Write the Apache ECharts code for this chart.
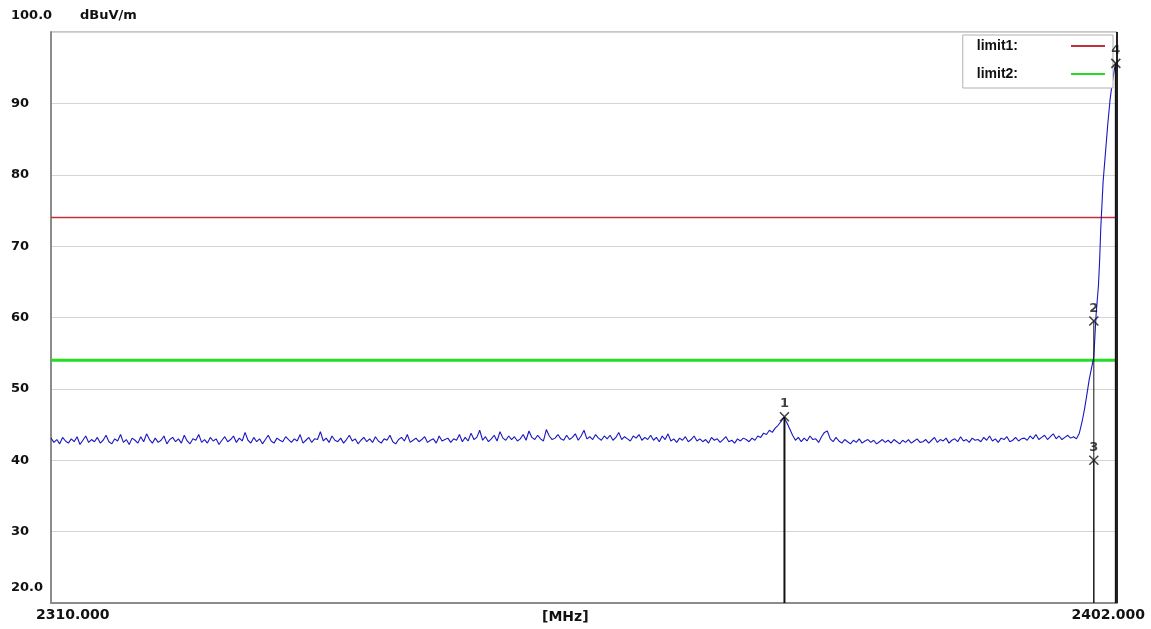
<!DOCTYPE html>
<html><head><meta charset="utf-8">
<script src="https://cdn.jsdelivr.net/npm/echarts@6/dist/echarts.min.js"></script>
<style>html,body{margin:0;padding:0;background:#fff}#c{width:1151px;height:629px}</style>
</head><body><div id="c"></div>
<script>
// ---- data ----
const sweepStart = 2310.0;   // MHz
const sweepStep = 0.25;      // MHz between sweep samples
const sweepLevels = [
  43.1,42.5,42.9,42.3,43.2,42.7,42.4,43.0,42.6,43.3,42.2,42.8,43.4,42.5,42.9,42.6,
  43.2,42.4,42.8,43.5,42.6,42.3,43.0,42.7,43.6,42.5,42.9,42.2,43.1,42.8,42.4,43.3,
  42.6,43.7,42.9,42.4,43.1,42.5,42.8,43.4,42.3,42.9,43.2,42.6,43.0,42.4,43.5,42.7,
  42.3,43.0,42.8,43.6,42.5,42.9,42.4,43.2,42.7,43.0,42.2,42.8,43.3,42.6,42.9,43.4,
  42.5,43.1,42.7,43.9,42.8,42.4,43.2,42.6,43.0,42.3,42.9,43.5,42.7,42.4,43.1,42.8,
  42.6,43.3,42.9,42.5,43.0,42.7,43.6,42.4,42.8,43.2,42.5,43.0,42.9,44.0,42.7,43.1,
  42.5,43.4,42.8,42.6,43.1,42.4,42.9,43.5,42.7,43.0,42.3,42.8,43.2,42.6,43.0,42.5,
  43.3,42.7,42.4,43.0,42.8,43.5,42.6,42.3,42.9,43.2,42.7,43.6,42.5,42.8,43.1,42.6,
  42.9,43.3,42.5,42.8,43.0,42.4,43.4,42.7,42.9,43.1,42.5,43.0,42.8,43.6,42.6,43.2,
  42.7,43.8,42.9,43.2,44.2,42.8,43.3,42.6,43.0,43.5,42.7,44.0,43.1,42.8,43.4,42.9,
  43.3,42.7,43.0,43.6,42.8,44.1,43.2,42.9,43.5,43.0,42.7,44.3,43.4,42.9,43.1,43.6,
  43.0,42.8,43.5,42.9,43.2,43.7,42.8,43.4,44.2,43.0,43.3,42.9,43.6,43.1,42.8,43.4,
  43.0,43.5,42.8,43.2,43.9,42.9,43.3,43.0,42.7,43.4,43.1,43.6,42.8,43.2,42.9,43.5,
  42.8,43.2,42.6,43.4,42.9,43.7,42.7,43.0,42.5,43.1,42.8,43.3,42.6,42.9,43.4,42.7,
  43.0,42.6,42.9,42.4,43.2,42.8,43.0,42.5,42.9,43.3,42.6,42.8,42.4,43.0,42.7,43.1,
  42.9,42.6,43.1,42.8,43.4,43.2,43.8,43.6,44.2,43.9,44.5,44.9,45.4,46.0,45.3,44.4,
  43.5,42.8,43.2,42.6,43.1,42.7,43.4,42.9,43.0,42.5,43.3,43.9,44.1,43.0,42.6,43.2,
  42.7,42.4,42.9,42.6,42.3,42.8,42.5,43.0,42.4,42.7,42.9,42.5,42.8,42.3,42.6,42.9,
  42.5,42.8,42.4,42.9,42.6,42.3,42.8,42.5,42.9,42.4,42.7,43.0,42.5,42.6,42.9,42.4,
  42.8,43.2,42.5,42.9,42.7,43.1,42.4,42.8,43.0,42.6,43.3,42.7,42.9,42.5,43.1,42.8,
  42.9,42.6,43.2,42.8,43.4,42.7,43.0,42.5,43.1,42.9,43.3,42.6,42.8,43.2,42.7,43.0,
  43.1,42.8,43.4,43.0,43.6,42.9,43.2,43.5,42.9,43.3,43.7,43.0,43.4,42.9,43.2,43.5,
  43.1,43.3,43.0
];
// band-edge rise
const edgeFreqs  = [2398.75,2399.0,2399.2,2399.4,2399.6,2399.8,2400.0,2400.1,2400.2,2400.3,2400.4,2400.5,2400.6,2400.8,2401.0,2401.2,2401.4,2401.6,2401.8,2401.9];
const edgeLevels = [43.8,45.5,47.2,49.2,51.3,52.9,54.5,57.5,60.5,62.5,64.5,68.0,72.5,79.0,83.0,87.0,90.5,93.0,95.0,95.6];

const limitNames = ['limit1', 'limit2'];
const limitValues = [74, 54];

const markerIds    = ['1', '2', '3', '4'];
const markerFreqs  = [2373.3, 2400.0, 2400.0, 2401.9];
const markerLevels = [46.1, 59.5, 40.0, 95.6];

const xMin = 2310, xMax = 2402;
const yMin = 20, yMax = 100, yStep = 10;
const yEndLabels = ['20.0', '100.0'];
const xLabels = ['2310.000', '[MHz]', '2402.000'];
const yUnit = 'dBuV/m';

// ---- build ----
const trace = sweepLevels.map((v, i) => [+(sweepStart + i * sweepStep).toFixed(2), v])
  .concat(edgeFreqs.map((f, i) => [f, edgeLevels[i]]));

const FONT = 'DejaVu Sans';
const limitColors = ['#c0303a', '#22dd22'];
const limitWidths = [1.5, 3];

const series = [];
series.push({
  name: 'trace', type: 'line', data: trace, showSymbol: false, silent: true,
  lineStyle: { color: '#1818c0', width: 1.1 }, z: 3, animation: false
});
limitNames.forEach((n, i) => {
  series.push({
    name: n, type: 'line', data: [[xMin, limitValues[i]], [xMax, limitValues[i]]],
    showSymbol: false, color: limitColors[i],
    lineStyle: { color: limitColors[i], width: limitWidths[i] }, z: 2, animation: false
  });
});
markerIds.forEach((id, i) => {
  series.push({
    name: 'mline' + id, type: 'line',
    data: [[markerFreqs[i], markerLevels[i]], [markerFreqs[i], yMin]],
    showSymbol: false, silent: true,
    lineStyle: { color: '#111', width: (i === 0 || i === 3) ? 2 : 1 }, z: 4, animation: false
  });
});
series.push({
  name: 'markers', type: 'scatter',
  data: markerIds.map((id, i) => [markerFreqs[i], markerLevels[i]]),
  symbol: 'path://M0,0L10,10M10,0L0,10', symbolSize: 9,
  itemStyle: { color: 'rgba(0,0,0,0)', borderColor: '#111', borderWidth: 1.5 },
  label: { show: true, position: 'top', distance: 1, formatter: p => markerIds[p.dataIndex],
           fontFamily: FONT, fontWeight: 'bold', fontSize: 13, color: '#111' },
  z: 5, animation: false
});
series.push({
  name: 'frameR', type: 'line', data: [[xMax, yMin], [xMax, yMax]], showSymbol: false, silent: true,
  lineStyle: { color: '#222', width: 2 }, z: 4, animation: false
});

const chart = echarts.init(document.getElementById('c'));
chart.setOption({
  animation: false,
  backgroundColor: '#fff',
  grid: { left: 51, top: 32, right: 34, bottom: 26, show: true, borderColor: '#8c8c8c', borderWidth: 1 },
  xAxis: {
    type: 'value', min: xMin, max: xMax,
    axisLine: { show: true, lineStyle: { color: '#8c8c8c', width: 2 } },
    axisTick: { show: false }, axisLabel: { show: false }, splitLine: { show: false }
  },
  yAxis: {
    type: 'value', min: yMin, max: yMax, interval: yStep,
    axisLine: { show: true, lineStyle: { color: '#8c8c8c', width: 2 } },
    axisTick: { show: false },
    axisLabel: {
      formatter: v => (v === yMin || v === yMax) ? '' : String(v),
      align: 'left', margin: 40, fontFamily: FONT, fontWeight: 'bold', fontSize: 13, color: '#111'
    },
    splitLine: { show: true, lineStyle: { color: '#d4d4d4', width: 1 } }
  },
  legend: {
    data: limitNames, orient: 'vertical', right: 38, top: 35, align: 'right',
    icon: 'rect', itemWidth: 34, itemHeight: 2, itemGap: 12,
    padding: [3, 8, 6, 14],
    backgroundColor: '#fff', borderColor: '#b0b0b0', borderWidth: 1,
    formatter: n => n + ':',
    textStyle: { fontFamily: 'Liberation Sans', fontWeight: 'bold', fontSize: 14, color: '#111',
                 lineHeight: 16, padding: [0, 48, 0, 0] }
  },
  graphic: [
    { type: 'text', left: 11, top: 9, style: { text: yEndLabels[1], font: 'bold 13px "DejaVu Sans"', fill: '#111' } },
    { type: 'text', left: 80, top: 9, style: { text: yUnit, font: 'bold 13px "DejaVu Sans"', fill: '#111' } },
    { type: 'text', left: 11, top: 581, style: { text: yEndLabels[0], font: 'bold 13px "DejaVu Sans"', fill: '#111' } },
    { type: 'text', left: 36, top: 608, style: { text: xLabels[0], font: 'bold 14px "DejaVu Sans"', fill: '#111' } },
    { type: 'text', left: 542, top: 610, style: { text: xLabels[1], font: 'bold 14px "DejaVu Sans"', fill: '#111' } },
    { type: 'text', right: 6, top: 608, style: { text: xLabels[2], font: 'bold 14px "DejaVu Sans"', fill: '#111' } }
  ],
  series: series
});
</script>
</body></html>
